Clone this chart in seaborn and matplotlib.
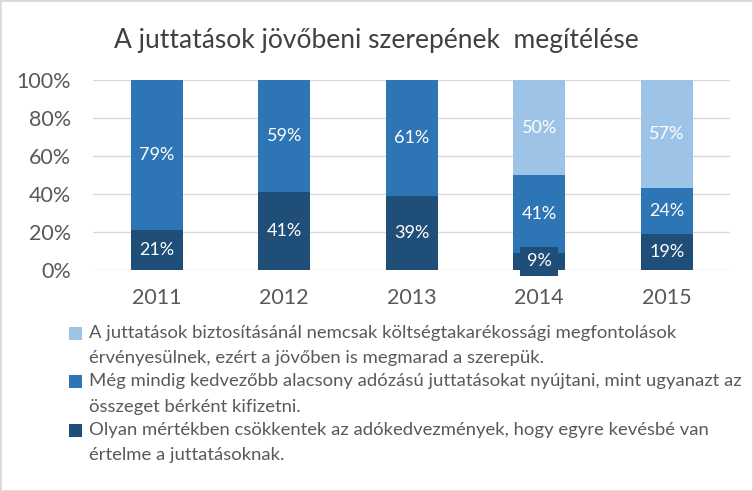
import seaborn as sns
import pandas as pd
from matplotlib import pyplot as plt
from matplotlib.patches import Patch, Rectangle

sns.set_style("white")
plt.rcParams['font.family'] = ['Lato', 'DejaVu Sans']

years = ['2011', '2012', '2013', '2014', '2015']
light = [0, 0, 0, 50, 57]
mid = [79, 59, 61, 41, 24]
dark = [21, 41, 39, 9, 19]

labels = [
    "A juttatások biztosításánál nemcsak költségtakarékossági megfontolások\nérvényesülnek, ezért a jövőben is megmarad a szerepük.",
    "Még mindig kedvezőbb alacsony adózású juttatásokat nyújtani, mint ugyanazt az\nösszeget bérként kifizetni.",
    "Olyan mértékben csökkentek az adókedvezmények, hogy egyre kevésbé van\nértelme a juttatásoknak.",
]
colors = ['#9DC3E6', '#2E75B6', '#1F4E79']
grey = '#595959'

df = pd.DataFrame({'year': years, 'light': light, 'mid': mid, 'dark': dark})
df['top'] = df['dark'] + df['mid'] + df['light']
df['middle'] = df['dark'] + df['mid']

fig = plt.figure(figsize=(7.53, 4.91), dpi=100)
ax = fig.add_axes([0.1235, 0.45, 0.8466, 0.387])

# draw back to front: cumulative totals
for col, c in zip(['top', 'middle', 'dark'], colors):
    sns.barplot(data=df, x='year', y=col, color=c, width=0.41, saturation=1, ax=ax,
                zorder=2, linewidth=0, edgecolor='none')

for i in range(len(years)):
    segs = [(dark[i], 0), (mid[i], dark[i]), (light[i], dark[i] + mid[i])]
    for k, (v, base) in enumerate(segs):
        if v <= 0:
            continue
        bbox = None
        if v < 12:
            bbox = dict(boxstyle='square,pad=0.35', fc=colors[2], ec='none')
        ax.text(i, base + v / 2, f"{v}%", ha='center', va='center', color='white',
                fontsize=13, zorder=4, bbox=bbox, clip_on=False)

ax.set_ylim(0, 100)
ax.set_xlim(-0.5, 4.5)
ax.set_yticks(range(0, 101, 20))
ax.set_yticklabels([f"{t}%" for t in range(0, 101, 20)])
ax.yaxis.grid(True, color='#d9d9d9', linewidth=1, zorder=0)
ax.set_axisbelow(True)
ax.tick_params(axis='y', labelsize=15.5, colors=grey, length=0, pad=16)
ax.tick_params(axis='x', labelsize=15.5, colors=grey, length=0, pad=13)
ax.set_xlabel('')
ax.set_ylabel('')
for s in ax.spines.values():
    s.set_visible(False)

fig.text(0.5, 0.918, "A juttatások jövőbeni szerepének  megítélése", ha='center', va='center',
         fontsize=19, color='#404040')

handles = [Patch(facecolor=c, edgecolor='none') for c in colors]
leg = fig.legend(handles, labels, loc='upper left', bbox_to_anchor=(0.08, 0.357), frameon=False,
                 fontsize=13.3, labelcolor=grey, handlelength=0.7, handleheight=0.7,
                 handletextpad=0.35, labelspacing=0.4, borderpad=0)
for t in leg.get_texts():
    t.set_linespacing(1.7)
# put the colour squares beside the first line of each entry
for h in leg.legend_handles:
    h.set_y(h.get_y() + 8.7)

fig.patches.append(Rectangle((0, 0), 1, 1, transform=fig.transFigure, fill=False,
                             edgecolor='#d9d9d9', linewidth=2))

fig.savefig('out.png', dpi=100)
